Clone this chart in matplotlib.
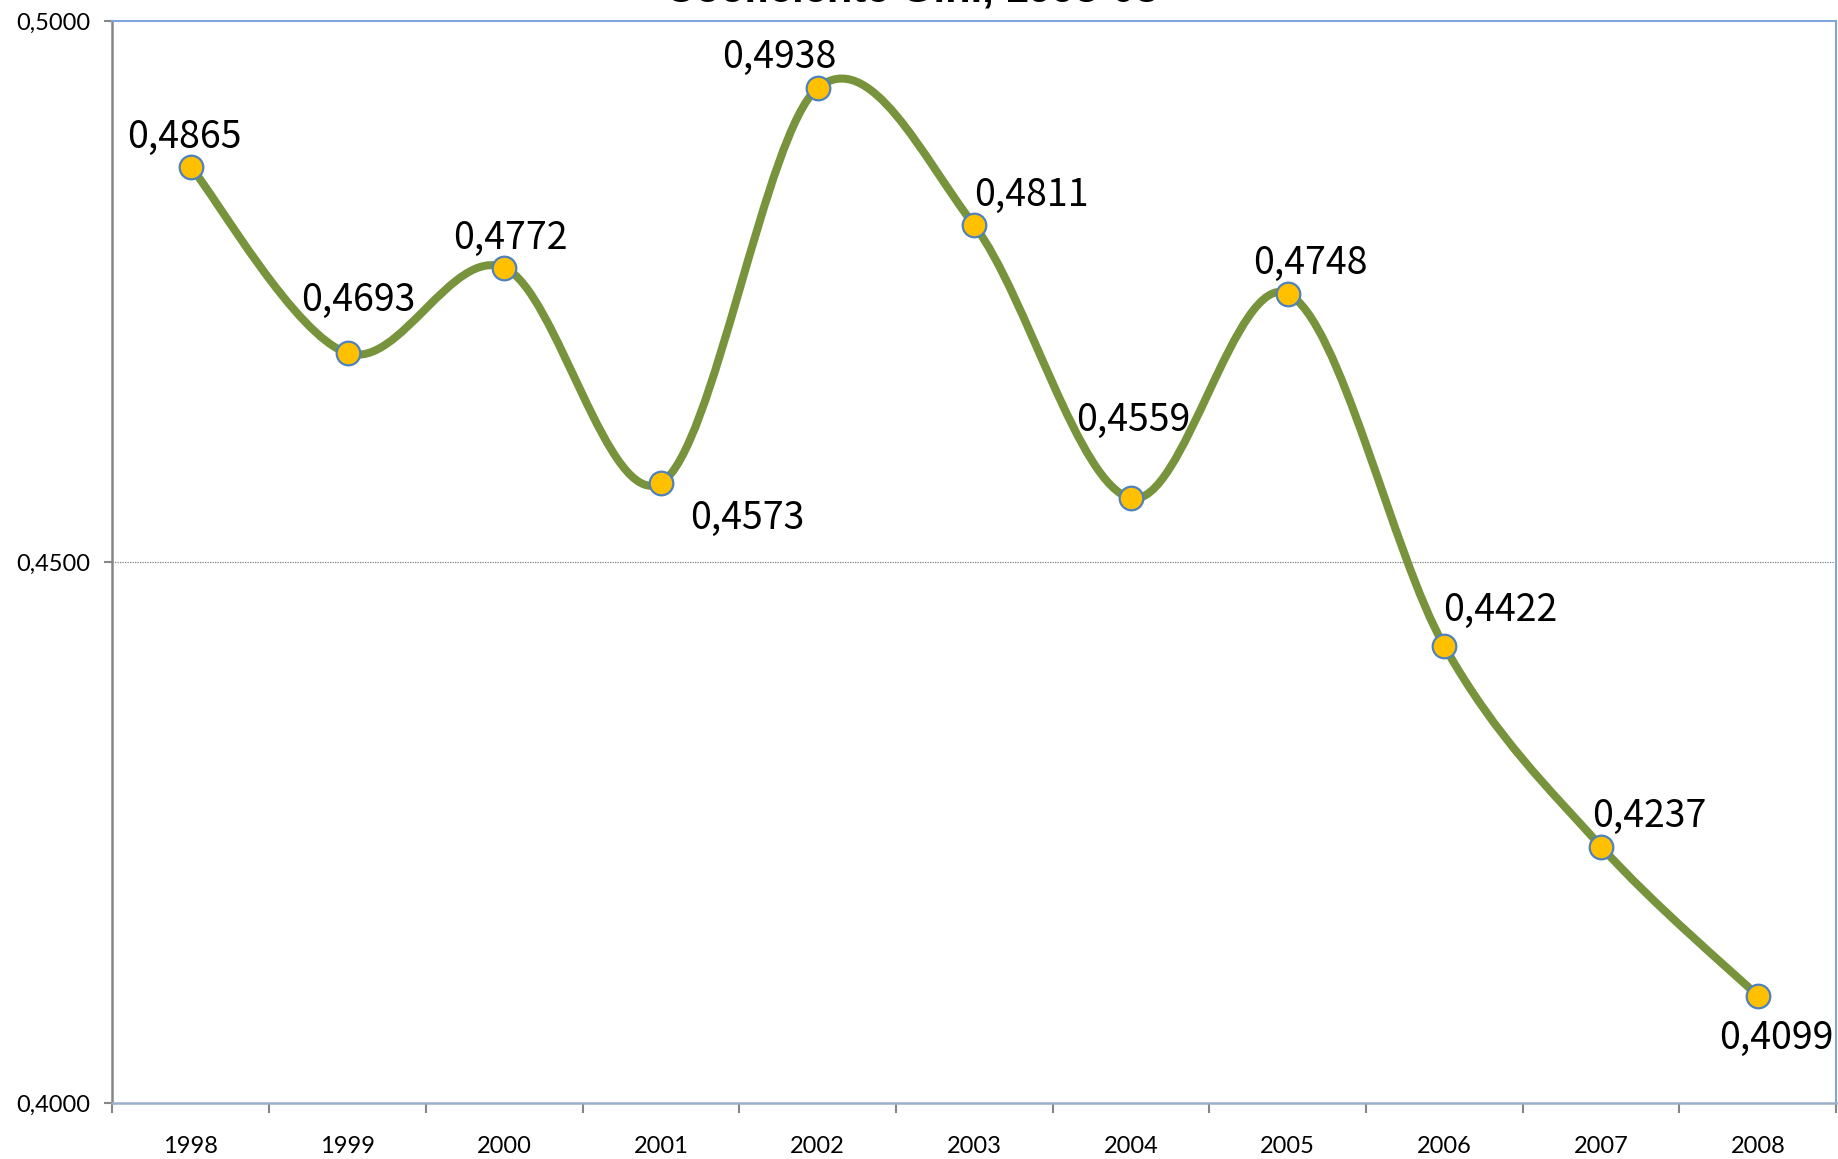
import matplotlib
matplotlib.use("Agg")
import matplotlib.pyplot as plt
from matplotlib.path import Path
from matplotlib.patches import PathPatch

# data
years = ["1998", "1999", "2000", "2001", "2002", "2003", "2004", "2005", "2006", "2007", "2008"]
gini = [0.4865, 0.4693, 0.4772, 0.4573, 0.4938, 0.4811, 0.4559, 0.4748, 0.4422, 0.4237, 0.4099]
# label offsets in pixels (dx, dy)
label_offsets = [(-6, 30), (11, 53), (6, 29), (86, -35), (-38, 31), (57, 30),
                 (2, 78), (23, 30), (56, 36), (48, 30), (18, -43)]

LINE = "#77933C"
MARK = "#FFC000"
EDGE = "#4F81BD"
NARROW = ["Noto Sans CJK SC", "DejaVu Sans"]

plt.rcParams['font.family'] = ['Lato', 'DejaVu Sans']

fig = plt.figure(figsize=(18.38, 11.59), dpi=100)
ax = fig.add_axes([0.0612, 0.0483, 0.9378, 0.9336])

x = list(range(len(years)))

# smoothed line like Excel: cubic bezier segments through the points
verts = [(x[0], gini[0])]
codes = [Path.MOVETO]
n = len(x)
for i in range(n - 1):
    p0 = (x[max(i - 1, 0)], gini[max(i - 1, 0)])
    p1 = (x[i], gini[i])
    p2 = (x[i + 1], gini[i + 1])
    p3 = (x[min(i + 2, n - 1)], gini[min(i + 2, n - 1)])
    c1 = (p1[0] + (p2[0] - p0[0]) / 6, p1[1] + (p2[1] - p0[1]) / 6)
    c2 = (p2[0] - (p3[0] - p1[0]) / 6, p2[1] - (p3[1] - p1[1]) / 6)
    verts += [c1, c2, p2]
    codes += [Path.CURVE4] * 3
ax.add_patch(PathPatch(Path(verts, codes), facecolor="none", edgecolor=LINE,
                       lw=5.8, capstyle="round", joinstyle="round", zorder=3))

ax.plot(x, gini, ls="none", marker="o", ms=17, mfc=MARK, mec=EDGE, mew=1.6, zorder=4)

for xi, yi, (dx, dy) in zip(x, gini, label_offsets):
    ax.annotate(f"{yi:.4f}".replace(".", ","), (xi, yi), xytext=(dx, dy),
                textcoords="offset pixels", ha="center", va="center",
                fontsize=27, family=NARROW, zorder=5)

ax.set_xlim(-0.5, 10.5)
ax.set_ylim(0.40, 0.50)
ax.set_yticks([0.40, 0.45, 0.50])
ax.set_yticklabels(["0,4000", "0,4500", "0,5000"], fontsize=17)
ax.set_xticks([i + 0.5 for i in range(-1, 11)])
ax.set_xticklabels([])
ax.set_xticks(x, minor=True)
ax.set_xticklabels(years, minor=True, fontsize=17)
ax.tick_params(axis="x", which="major", length=7, color="#868686", width=1.5, direction="out")
ax.tick_params(axis="x", which="minor", length=0, pad=24)
ax.tick_params(axis="y", length=6, color="#868686", width=1.5, pad=10)

ax.axhline(0.45, color="#808080", lw=0.9, ls=(0, (1, 1)), zorder=1)

for s in ["top", "right"]:
    ax.spines[s].set_color("#7EA6DC")
    ax.spines[s].set_linewidth(1.5)
ax.spines["left"].set_color("#868686")
ax.spines["left"].set_linewidth(1.8)
ax.spines["bottom"].set_color("#9BB0C8")
ax.spines["bottom"].set_linewidth(1.8)

fig.text(0.496, 1 - 2 / 1159, "Coeficiente Gini, 1998-08", ha="center", va="baseline",
         fontsize=30, fontweight="bold", family=["Liberation Sans", "DejaVu Sans"])

fig.savefig("out.png", dpi=100)
